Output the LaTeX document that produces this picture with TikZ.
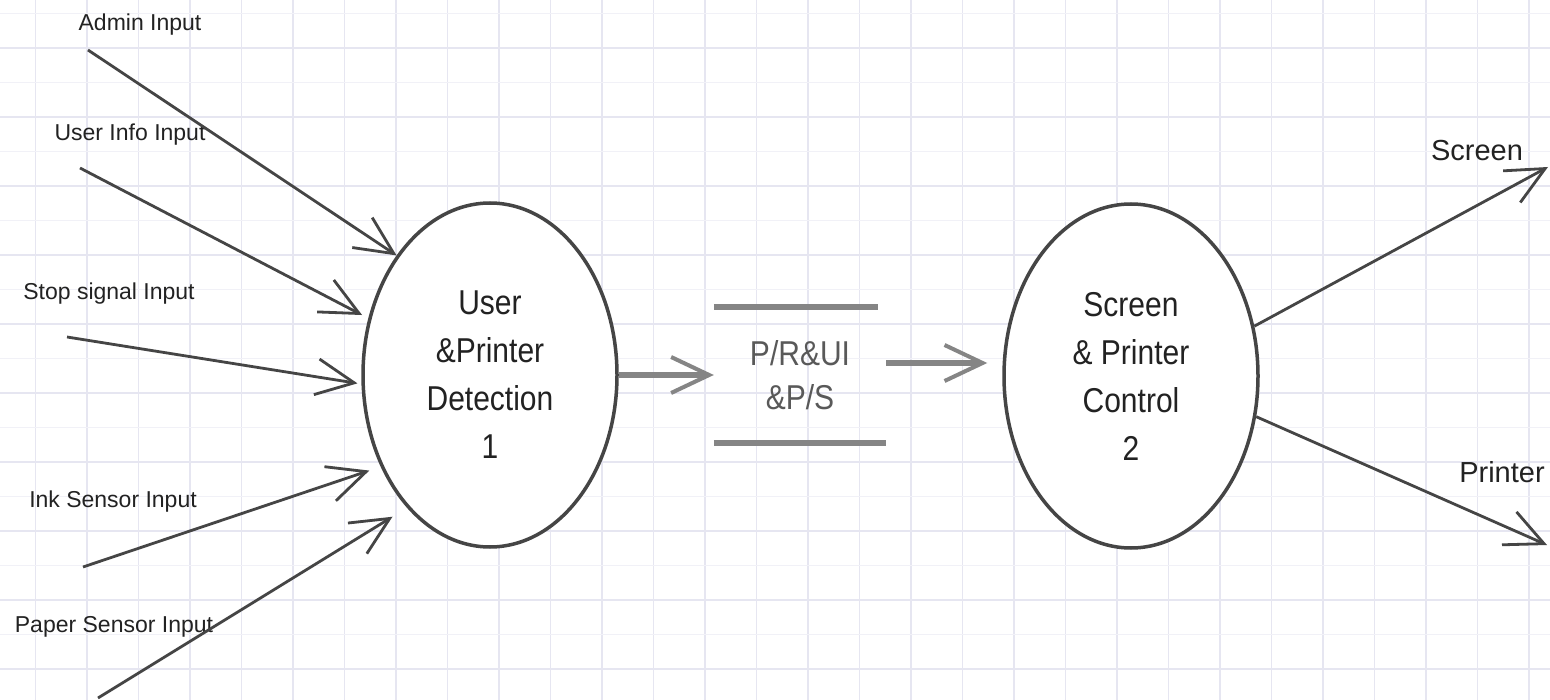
\documentclass[tikz,border=0pt]{standalone}
\usepackage{fontspec}
\setmainfont{Liberation Sans}
\usetikzlibrary{arrows.meta,shapes.geometric}
\definecolor{gridA}{HTML}{E6E6F1}
\definecolor{gridB}{HTML}{F1F1F7}
\definecolor{ink}{HTML}{454545}
\definecolor{flow}{HTML}{858585}
\definecolor{txt}{HTML}{222222}
\newcommand{\tl}[1]{\scalebox{1}[1.15]{#1}}
\tikzset{
  proc/.style={ellipse, draw=ink, line width=3.5pt, fill=white,
    minimum width=254pt, minimum height=344pt, inner sep=0pt,
    align=center, font=\fontsize{30}{48}\selectfont, text=txt},
  storebox/.style={minimum width=172pt, minimum height=136pt, inner sep=0pt,
    align=center, font=\fontsize{30}{44}\selectfont, text=black!65},
  lbl/.style={font=\fontsize{23}{26}\selectfont, text=txt, inner sep=0pt},
  olbl/.style={font=\fontsize{29}{34}\selectfont, text=txt, inner sep=0pt},
  inflow/.style={draw=ink, line width=2.8pt,
    -{Straight Barb[length=38pt,width=36pt,line width=2.8pt]}},
  dflow/.style={draw=flow, line width=6pt,
    -{Straight Barb[length=38pt,width=36pt,line width=4pt]}},
  storeline/.style={draw=flow, line width=6pt},
  gridmaj/.style={draw=gridA, line width=1.4pt},
  gridmin/.style={draw=gridB, line width=1.2pt},
}
\begin{document}
\begin{tikzpicture}[x=1pt,y=-1pt]
  \useasboundingbox (0,0) rectangle (1550,700);
  \fill[white] (0,0) rectangle (1550,700);
  % grid
  \foreach \i in {0,...,29} \draw[gridmaj] ({35.5+51.5*\i},0) -- ++(0,700);
  \foreach \k in {0,...,9} {
    \draw[gridmaj] (0,{48+69*\k}) -- ++(1550,0);
    \draw[gridmin] (0,{13.5+69*\k}) -- ++(1550,0);
  }
  % processes
  \node[proc] (e1) at (490,375) {\tl{User}\\\tl{\&Printer}\\\tl{Detection}\\\tl{1}};
  \node[proc] (e2) at (1131,376) {\tl{Screen}\\\tl{\& Printer}\\\tl{Control}\\\tl{2}};
  % data store
  \node[storebox] (st) at (800,375) {\tl{P/R\&UI}\\\tl{\&P/S}};
  \draw[storeline] (st.north west) -- ([xshift=-8pt]st.north east);
  \draw[storeline] (st.south west) -- (st.south east);
  \draw[dflow] (e1.east) -- (e1.east -| st.west);
  \draw[dflow, shorten >=15pt] ([yshift=12pt]st.east) -- ([yshift=12pt]st.east -| e2.west);
  % input labels
  \node[lbl] (la) at (140,25) {Admin Input};
  \node[lbl] (lu) at (130,135) {User Info Input};
  \node[lbl] (ls) at (109,294) {Stop signal Input};
  \node[lbl] (li) at (113,502) {Ink Sensor Input};
  \node[lbl] (lp) at (114,627) {Paper Sensor Input};
  % output labels
  \node[olbl] (lsc) at (1477,151) {Screen};
  \node[olbl] (lpr) at (1502,472) {Printer};
  % free ends
  \coordinate (sa) at (88,50);
  \coordinate (su) at (80,168);
  \coordinate (ss) at (67,337);
  \coordinate (si) at (83,567);
  \coordinate (sp) at (98,698);
  \coordinate (os) at (1548,167);
  \coordinate (op) at (1547,545);
  % inputs
  \draw[inflow] (sa) -- (e1.128);
  \draw[inflow, shorten >=7pt] (su) -- (e1.155);
  \draw[inflow, shorten >=4pt] (ss) -- (e1.184);
  \draw[inflow, shorten >=12pt] (si) -- (e1.220);
  \draw[inflow, shorten >=17pt] (sp) -- (e1.238);
  % outputs
  \draw[inflow] (e2.22) -- (os);
  \draw[inflow] (e2.-18) -- (op);
\end{tikzpicture}
\end{document}
